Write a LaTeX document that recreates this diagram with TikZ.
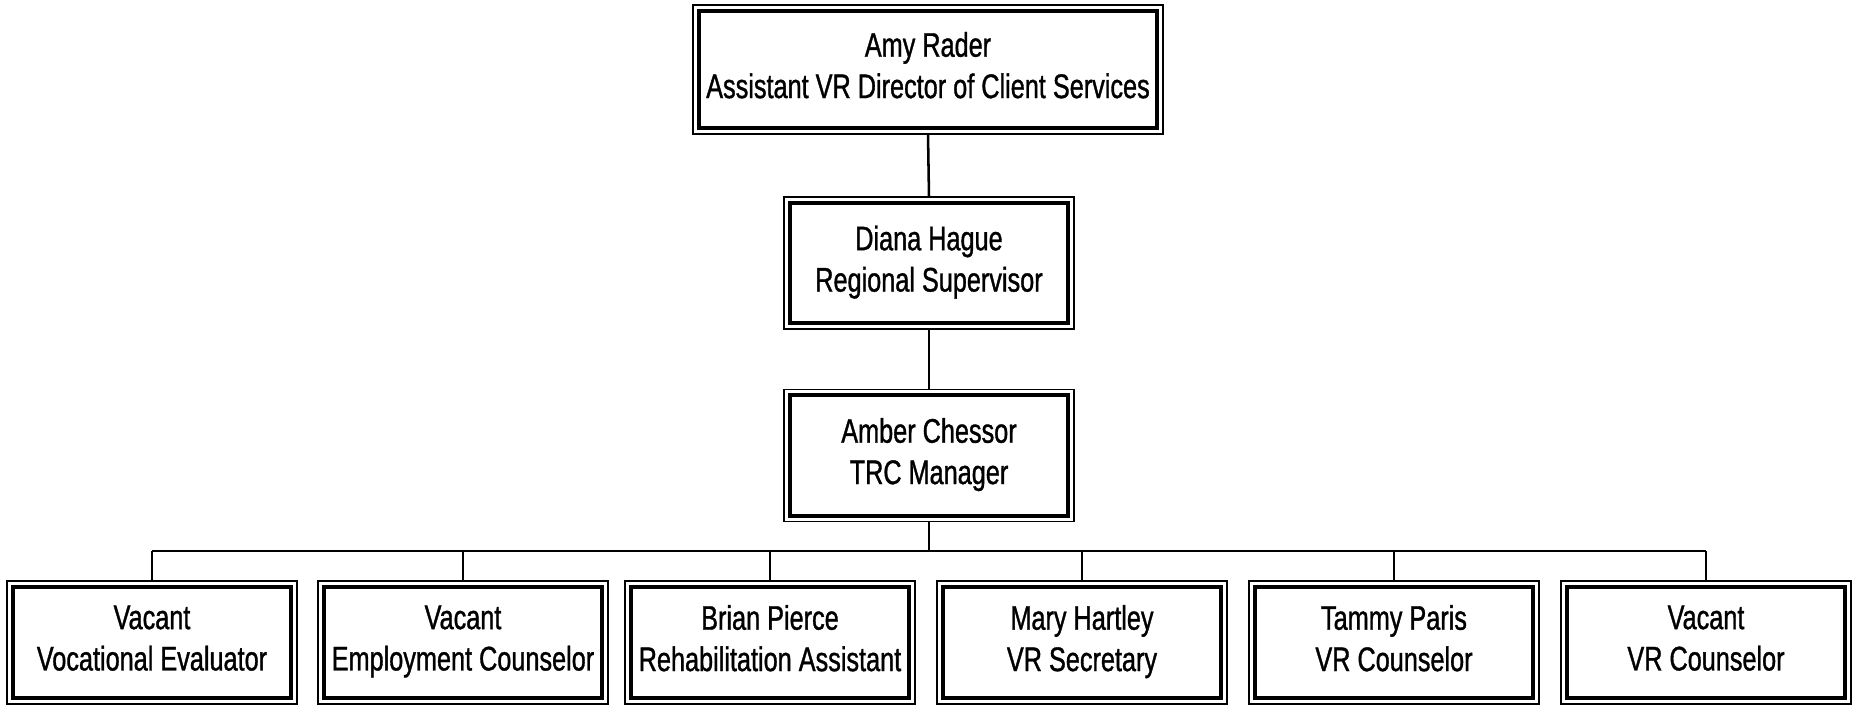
\documentclass[tikz,border=0pt]{standalone}
\usepackage{amsmath}
\usepackage{fontspec}
\setmainfont{Liberation Sans}[FakeStretch=0.74,FakeBold=1]
\usepackage{tikz}

\newcommand{\orgstrut}{\rule[-6.7pt]{0pt}{24.3pt}}

\tikzset{
  orgbox/.style={draw, line width=3.2pt, outer sep=4.3pt, align=center, inner sep=2pt,
    minimum width=209pt, minimum height=83.6pt, font=\fontsize{25.6}{31}\selectfont,
    execute at begin node=\orgstrut, execute at end node=\orgstrut},
  orgframe/.style={draw, line width=1.3pt},
  orgline/.style={draw, line width=1.9pt}
}

\begin{document}
\begin{tikzpicture}[x=0.75pt,y=0.75pt,yscale=-1,xscale=1]
\path [use as bounding box] (0,0) rectangle (1854,711);

% Text Node
\node [orgbox, minimum width=344pt, minimum height=88pt] (amy) at (928,69.5) {Amy Rader\\Assistant VR Director of Client Services};
% Text Node
\node [orgbox, minimum height=90.5pt] (diana) at (929,263) {Diana Hague\\Regional Supervisor};
% Text Node
\node [orgbox, minimum height=90.5pt] (amber) at (929,455.5) {Amber Chessor\\TRC Manager};
% Text Node
\node [orgbox] (vacve) at (152,642.5) {Vacant\\Vocational Evaluator};
% Text Node
\node [orgbox] (vacec) at (463,642.5) {Vacant\\Employment Counselor};
% Text Node
\node [orgbox] (brian) at (770,642.5) {Brian Pierce\\Rehabilitation Assistant};
% Text Node
\node [orgbox] (mary) at (1082,642.5) {Mary Hartley\\VR Secretary};
% Text Node
\node [orgbox] (tammy) at (1394,642.5) {Tammy Paris\\VR Counselor};
% Text Node
\node [orgbox] (vacvr) at (1706,642.5) {Vacant\\VR Counselor};

%Outer frames
\foreach \n in {amy,diana,amber,vacve,vacec,brian,mary,tammy,vacvr}
  \draw [orgframe] (\n.north west) rectangle (\n.south east);

%Straight Lines
\draw [orgline] (amy.south) -- (diana.north);
\draw [orgline] (diana.south) -- (amber.north);
\coordinate (bus) at (929,551);
\draw [orgline] (amber.south) -- (amber.south |- bus);
\draw [orgline] (vacve.north |- bus) -- (vacvr.north |- bus);
\foreach \n in {vacve,vacec,brian,mary,tammy,vacvr}
  \draw [orgline] (\n.north) -- (\n.north |- bus);
\end{tikzpicture}
\end{document}
